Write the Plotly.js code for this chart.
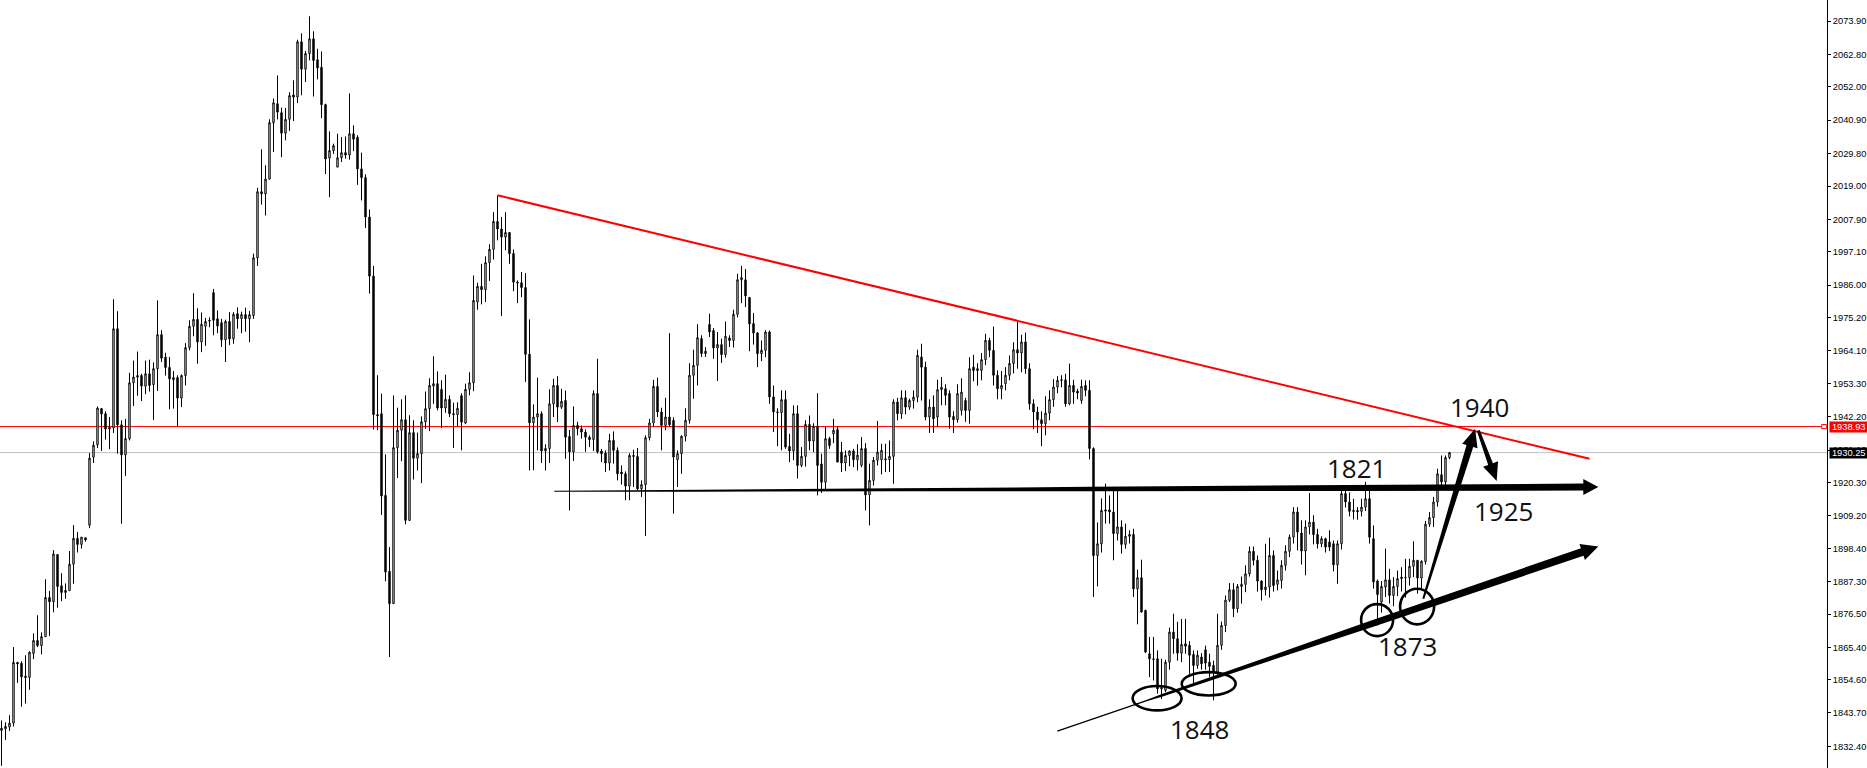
<!DOCTYPE html>
<html><head><meta charset="utf-8">
<script src="https://cdn.plot.ly/plotly-3.0.1.min.js"></script>
<style>html,body{margin:0;padding:0;background:#fff;overflow:hidden}#chart{width:1867px;height:768px}</style>
</head><body><div id="chart"></div>
<script>
// ---------------- price data (one candle per bar, oldest first) ----------------
const opens = [
1838.5,1838.3,1838.9,1840.2,1860.4,1860.1,1855.8,1855.4,1863.4,1867.7,
1866.0,1869.0,1882.0,1880.6,1896.3,1885.9,1883.7,1884.3,1893.1,1901.7,
1899.7,1901.9,1906.1,1928.7,1932.9,1944.9,1943.2,1938.1,1938.5,1971.5,
1939.5,1929.5,1934.9,1953.5,1955.9,1955.9,1952.4,1956.5,1952.9,1958.2,
1969.5,1962.0,1958.6,1954.5,1955.2,1948.4,1955.9,1965.2,1972.3,1974.6,
1967.1,1972.3,1974.0,1983.5,1974.8,1973.5,1967.8,1973.9,1968.1,1976.5,
1974.8,1976.2,1974.8,1975.9,1995.1,2017.1,2016.4,2021.3,2040.1,2046.4,
2043.4,2036.6,2041.2,2049.3,2048.6,2067.0,2057.9,2063.1,2068.0,2061.0,
2058.5,2046.1,2028.3,2030.8,2025.3,2028.4,2030.1,2029.3,2036.4,2035.2,
2024.7,2021.8,2008.7,1989.0,1942.9,1943.2,1916.0,1890.7,1880.0,1931.9,
1937.7,1941.2,1907.7,1936.9,1928.4,1929.9,1940.5,1944.9,1952.4,1953.2,
1951.3,1945.1,1948.0,1943.2,1942.9,1949.2,1940.1,1951.3,1953.5,1980.4,
1985.6,1984.5,1993.5,1997.9,2007.2,2004.7,2002.0,2003.5,1996.5,1987.0,
1986.8,1985.2,1963.0,1940.2,1942.1,1943.2,1930.8,1931.6,1946.5,1952.6,
1945.4,1947.6,1935.6,1930.5,1939.3,1938.2,1937.1,1935.4,1934.6,1949.9,
1930.8,1930.1,1926.8,1934.3,1931.0,1923.8,1923.2,1919.1,1929.3,1929.0,
1918.2,1919.6,1935.2,1940.1,1952.3,1943.8,1939.3,1942.1,1941.0,1927.9,
1929.9,1935.7,1941.0,1956.0,1959.3,1968.2,1963.2,1972.9,1970.9,1965.1,
1966.2,1962.9,1968.4,1967.6,1976.3,1987.8,1987.8,1981.9,1973.2,1970.1,
1963.2,1964.3,1970.4,1948.8,1943.8,1943.6,1947.9,1932.3,1930.8,1943.2,
1926.0,1929.0,1939.6,1934.1,1939.0,1926.5,1920.4,1934.9,1936.5,1937.9,
1930.4,1926.8,1929.3,1930.8,1927.9,1926.0,1931.6,1916.2,1921.0,1927.7,
1927.9,1928.2,1927.9,1929.0,1947.1,1943.2,1948.5,1945.4,1947.6,1948.7,
1962.1,1958.7,1942.1,1945.4,1942.1,1951.2,1951.5,1949.9,1942.3,1941.2,
1944.3,1947.6,1944.3,1958.7,1958.2,1957.6,1961.2,1967.6,1964.3,1956.0,
1951.5,1953.2,1956.0,1959.9,1964.5,1963.4,1967.1,1958.2,1946.5,1943.8,
1941.2,1939.9,1943.4,1947.9,1952.1,1954.5,1954.5,1946.5,1952.6,1950.7,
1947.6,1952.6,1951.0,1931.6,1896.0,1899.9,1911.2,1911.2,1910.5,1903.3,
1905.5,1899.7,1902.4,1903.0,1884.9,1888.6,1877.7,1863.3,1861.6,1861.6,
1851.6,1851.1,1860.5,1870.5,1868.3,1863.5,1866.6,1866.1,1863.1,1859.4,
1862.2,1864.6,1860.5,1859.4,1857.2,1866.1,1872.7,1881.1,1884.6,1878.3,
1885.7,1886.4,1889.9,1897.4,1894.4,1887.5,1884.6,1885.5,1896.0,1886.4,
1887.7,1892.7,1897.4,1902.1,1910.5,1903.5,1897.5,1905.5,1907.1,1903.0,
1899.9,1901.6,1900.5,1899.9,1892.9,1899.9,1916.6,1913.8,1911.0,1911.0,
1910.7,1912.1,1914.9,1901.6,1887.5,1880.5,1885.5,1887.9,1882.7,1885.7,
1888.3,1888.6,1888.6,1892.4,1894.4,1888.5,1894.0,1906.4,1908.6,1913.8,
1922.9,1920.5,1928.6];
const highs = [
1841.1,1840.5,1842.8,1865.5,1860.6,1860.8,1862.8,1864.1,1870.1,1876.1,
1870.4,1888.1,1884.2,1897.8,1896.5,1890.1,1886.7,1897.5,1906.1,1903.8,
1902.1,1901.9,1930.1,1934.0,1945.6,1945.1,1944.0,1942.1,1981.3,1977.3,
1941.0,1941.5,1956.8,1960.9,1963.9,1956.5,1960.9,1961.2,1960.3,1980.9,
1971.0,1963.5,1962.1,1957.4,1956.0,1956.3,1966.7,1974.3,1983.3,1978.3,
1976.9,1975.1,1975.3,1984.7,1977.6,1974.8,1974.5,1977.0,1977.0,1978.6,
1977.2,1978.5,1977.4,1996.5,2018.4,2031.2,2025.9,2041.2,2048.1,2055.8,
2045.1,2045.0,2050.2,2054.2,2067.7,2069.8,2064.0,2075.5,2070.5,2064.7,
2063.8,2046.4,2037.2,2033.1,2036.4,2035.3,2035.5,2049.8,2039.2,2035.9,
2030.1,2022.9,2011.2,1992.4,1956.0,1949.9,1929.7,1898.8,1949.3,1945.2,
1948.0,1949.3,1942.7,1941.0,1936.9,1942.3,1950.6,1955.0,1962.3,1957.3,
1954.3,1956.2,1949.3,1946.9,1947.0,1950.0,1953.2,1957.0,1989.2,1986.8,
1993.1,1995.6,1999.6,2010.3,2015.9,2008.7,2010.3,2003.7,1997.9,1987.6,
1990.4,1990.0,1974.6,1946.3,1955.2,1944.0,1933.0,1951.3,1954.8,1955.7,
1951.5,1950.9,1937.8,1945.6,1940.5,1939.3,1938.0,1936.0,1951.0,1961.5,
1931.5,1931.0,1936.5,1937.3,1932.0,1926.0,1924.0,1930.0,1931.2,1931.8,
1921.0,1936.0,1941.5,1954.5,1955.2,1945.2,1948.5,1970.0,1942.0,1931.0,
1936.0,1945.0,1960.0,1964.5,1973.0,1969.3,1965.4,1976.5,1971.7,1970.4,
1968.2,1973.9,1969.3,1977.8,1989.8,1992.4,1991.4,1981.9,1976.7,1970.4,
1967.6,1971.0,1970.9,1952.6,1945.0,1951.0,1951.0,1936.5,1946.0,1946.0,
1932.1,1941.0,1942.6,1940.0,1950.0,1929.9,1938.8,1935.5,1941.5,1939.0,
1933.8,1931.0,1931.0,1931.5,1933.0,1935.4,1933.4,1926.6,1928.8,1940.8,
1933.2,1933.2,1934.3,1948.0,1948.5,1951.0,1951.0,1948.2,1951.0,1964.5,
1966.5,1960.5,1948.0,1949.3,1954.5,1955.4,1953.0,1951.0,1944.0,1953.0,
1955.0,1948.5,1962.0,1962.8,1960.0,1963.4,1969.8,1968.5,1972.2,1957.6,
1957.4,1958.7,1962.6,1967.0,1973.7,1969.5,1970.2,1960.0,1948.0,1945.5,
1944.0,1949.0,1951.0,1954.7,1955.7,1956.0,1956.5,1959.9,1954.5,1951.5,
1954.5,1954.3,1954.3,1932.0,1907.0,1915.0,1919.9,1916.0,1917.7,1917.7,
1907.7,1906.6,1904.4,1904.9,1891.3,1894.6,1878.0,1868.9,1868.9,1864.4,
1861.6,1861.3,1872.0,1876.6,1873.9,1874.9,1874.9,1867.5,1864.4,1864.4,
1863.5,1866.0,1863.3,1861.0,1876.6,1874.0,1882.7,1886.8,1886.8,1886.5,
1889.0,1892.7,1899.0,1899.0,1896.0,1887.7,1899.9,1901.9,1897.7,1891.0,
1894.4,1899.4,1903.0,1912.1,1912.1,1907.7,1907.7,1916.8,1909.4,1904.9,
1902.4,1901.9,1904.4,1901.0,1901.0,1918.2,1917.7,1917.0,1914.9,1912.1,
1914.9,1920.5,1918.2,1906.0,1888.0,1887.5,1898.3,1891.6,1888.8,1891.0,
1892.1,1894.9,1894.9,1900.7,1894.4,1894.4,1907.5,1910.5,1915.5,1924.9,
1929.3,1929.3,1930.5];
const lows = [
1826.0,1834.6,1837.6,1839.1,1853.6,1845.7,1846.7,1851.3,1861.5,1865.5,
1863.1,1869.0,1869.2,1877.1,1878.6,1880.8,1881.6,1884.3,1886.6,1897.0,
1898.3,1900.6,1905.1,1926.8,1931.8,1930.8,1934.6,1931.4,1936.8,1929.9,
1906.6,1922.5,1934.3,1945.8,1949.2,1947.4,1949.7,1950.6,1941.1,1950.8,
1960.4,1955.9,1944.7,1944.9,1939.0,1945.4,1952.6,1964.3,1969.0,1959.9,
1963.7,1965.8,1972.0,1969.3,1970.0,1965.4,1960.4,1966.0,1966.5,1971.5,
1970.0,1970.5,1967.0,1974.8,1992.4,2012.8,2009.2,2021.2,2030.3,2041.2,
2028.6,2034.2,2037.3,2040.6,2046.6,2049.2,2053.6,2060.8,2048.8,2054.5,
2041.6,2023.0,2015.3,2029.7,2025.3,2027.0,2028.1,2027.8,2030.6,2019.4,
2014.2,2005.0,1983.2,1937.9,1937.7,1909.5,1887.4,1862.2,1880.0,1921.8,
1927.4,1906.4,1907.5,1921.3,1924.3,1920.1,1938.2,1937.4,1946.5,1944.3,
1938.4,1943.5,1942.1,1931.8,1939.0,1931.0,1939.7,1949.3,1950.7,1977.8,
1979.6,1980.4,1987.4,1994.5,2000.9,1975.7,1997.6,1993.1,1984.0,1980.0,
1982.0,1953.8,1924.3,1924.4,1931.0,1926.8,1924.3,1926.8,1942.1,1940.4,
1944.8,1928.2,1911.0,1927.5,1936.0,1934.9,1930.5,1932.1,1930.8,1929.9,
1927.1,1923.8,1924.3,1926.6,1921.0,1919.6,1914.4,1914.4,1918.8,1917.7,
1915.5,1902.5,1934.3,1938.8,1942.1,1931.0,1937.7,1938.8,1909.9,1918.8,
1923.2,1934.0,1939.9,1948.2,1952.6,1962.1,1962.1,1968.7,1961.5,1954.1,
1960.1,1961.9,1965.4,1965.2,1975.3,1980.0,1978.7,1964.0,1966.2,1958.7,
1960.7,1962.0,1946.5,1937.1,1932.4,1931.0,1931.5,1927.1,1927.7,1921.6,
1925.4,1925.6,1931.0,1930.4,1916.0,1916.8,1917.7,1931.5,1933.4,1927.1,
1923.8,1924.1,1925.7,1925.4,1924.3,1925.4,1911.0,1906.0,1919.3,1926.0,
1923.0,1923.8,1923.8,1919.9,1941.0,1941.5,1943.0,1944.5,1944.9,1947.0,
1947.6,1941.0,1936.8,1936.8,1938.8,1946.0,1946.0,1938.2,1936.8,1940.2,
1942.6,1940.5,1939.9,1954.0,1952.5,1954.3,1959.4,1962.0,1952.6,1948.0,
1948.0,1951.0,1954.3,1956.6,1958.2,1957.0,1956.5,1944.5,1938.0,1936.8,
1932.4,1936.0,1941.0,1945.5,1950.0,1952.0,1945.5,1946.0,1946.5,1948.0,
1946.5,1949.0,1928.0,1882.2,1885.7,1897.0,1906.6,1906.6,1894.4,1901.0,
1896.6,1898.3,1900.0,1882.2,1873.1,1877.0,1863.5,1855.5,1854.4,1850.0,
1848.3,1850.5,1858.0,1863.3,1861.0,1860.5,1863.3,1856.6,1853.1,1858.3,
1858.0,1858.0,1855.5,1847.8,1855.5,1864.6,1870.5,1880.5,1875.5,1877.0,
1880.0,1883.8,1889.0,1892.7,1884.0,1881.0,1882.7,1882.0,1884.0,1884.4,
1885.0,1891.0,1895.5,1900.0,1897.7,1893.0,1889.4,1903.0,1899.7,1898.3,
1898.8,1897.0,1897.5,1890.7,1886.6,1898.0,1912.0,1909.0,1908.0,1907.9,
1909.0,1910.8,1900.0,1885.0,1872.7,1877.0,1882.2,1880.0,1879.1,1882.5,
1884.0,1882.0,1886.0,1888.8,1883.3,1885.0,1893.0,1905.5,1905.5,1912.3,
1919.0,1919.5,1928.0];
const closes = [
1837.8,1839.1,1840.2,1860.4,1859.9,1855.6,1855.4,1863.8,1867.7,1866.0,
1869.0,1882.0,1880.6,1896.5,1885.7,1883.7,1884.4,1893.1,1901.7,1899.7,
1902.1,1901.2,1928.4,1932.7,1945.1,1943.1,1938.1,1938.7,1971.5,1939.5,
1929.5,1934.9,1953.5,1955.4,1955.4,1952.4,1956.5,1952.6,1958.2,1969.5,
1961.7,1958.6,1954.8,1955.2,1948.4,1955.9,1965.2,1972.3,1974.6,1967.1,
1973.0,1973.9,1974.3,1974.3,1972.4,1967.8,1973.9,1968.1,1976.3,1974.8,
1976.2,1974.8,1976.2,1995.1,2017.1,2016.4,2021.3,2040.1,2046.7,2043.6,
2036.6,2041.2,2049.1,2048.6,2067.0,2057.9,2063.1,2068.0,2060.8,2058.3,
2046.1,2028.0,2030.8,2032.4,2028.4,2030.1,2029.3,2036.4,2034.6,2024.7,
2021.8,2008.7,1989.0,1942.9,1942.5,1915.8,1890.5,1880.0,1931.9,1937.7,
1941.2,1907.7,1936.9,1928.4,1929.9,1940.5,1944.9,1952.6,1953.2,1945.1,
1945.1,1948.0,1943.2,1942.9,1945.0,1940.4,1951.3,1953.5,1980.9,1985.6,
1984.5,1993.5,1997.9,2007.2,2004.7,2002.0,2003.5,1996.5,1987.0,1986.7,
1985.2,1963.0,1940.2,1942.1,1943.2,1930.8,1931.6,1946.5,1952.6,1945.4,
1947.3,1935.4,1930.5,1939.3,1938.2,1937.1,1935.4,1934.6,1949.9,1930.5,
1929.9,1926.8,1934.3,1931.0,1923.2,1923.2,1919.1,1929.3,1929.0,1918.2,
1919.6,1935.2,1940.1,1952.3,1943.8,1939.3,1942.1,1939.5,1928.8,1929.9,
1935.7,1941.0,1956.0,1959.3,1968.5,1963.2,1964.0,1970.4,1965.1,1966.2,
1962.9,1969.0,1967.6,1976.3,1987.8,1988.5,1982.4,1973.1,1970.1,1963.2,
1964.3,1970.4,1948.8,1943.8,1943.6,1947.9,1932.1,1930.8,1943.2,1926.0,
1929.0,1939.6,1934.1,1939.0,1926.0,1920.4,1934.9,1932.6,1937.7,1927.1,
1926.8,1929.3,1930.8,1927.9,1929.4,1931.6,1916.2,1921.0,1927.7,1930.4,
1931.0,1927.9,1929.0,1947.1,1943.2,1948.5,1945.4,1947.6,1948.7,1962.6,
1958.7,1942.1,1945.4,1941.5,1951.2,1952.0,1949.3,1942.1,1941.2,1949.9,
1950.4,1944.3,1958.2,1957.6,1957.6,1961.2,1967.6,1964.3,1956.0,1951.5,
1952.6,1956.0,1959.9,1964.5,1963.4,1967.1,1958.2,1946.5,1943.8,1941.2,
1939.9,1943.4,1947.9,1952.1,1954.3,1954.3,1946.5,1952.6,1950.4,1950.1,
1952.3,1951.0,1931.6,1896.0,1899.9,1911.0,1910.8,1910.5,1903.3,1905.5,
1899.7,1902.4,1903.0,1884.9,1888.6,1877.2,1863.9,1861.6,1861.4,1851.6,
1852.0,1860.5,1870.5,1868.3,1863.5,1866.4,1865.8,1862.8,1859.4,1862.8,
1860.0,1860.2,1859.1,1857.2,1866.1,1872.7,1881.1,1884.6,1878.3,1885.7,
1886.4,1889.9,1897.4,1894.4,1887.5,1884.6,1885.5,1896.0,1886.0,1887.9,
1892.7,1897.4,1902.1,1910.5,1903.8,1897.5,1905.5,1907.1,1903.0,1899.9,
1901.6,1898.8,1898.8,1892.9,1899.9,1916.6,1913.8,1910.7,1910.7,1910.6,
1912.1,1914.9,1902.1,1887.2,1883.0,1885.7,1887.9,1882.7,1885.7,1888.3,
1888.8,1888.7,1892.4,1894.4,1888.5,1894.1,1906.4,1908.6,1913.8,1923.2,
1920.5,1928.6,1930.25];

// ---------------- price scale labels (terminal style) ----------------
const yTickText = ['2073.90','2062.80','2052.00','2040.90','2029.80','2019.00','2007.90','1997.10',
  '1986.00','1975.20','1964.10','1953.30','1942.20','1931.10','1920.30','1909.20','1898.40',
  '1887.30','1876.50','1865.40','1854.60','1843.70','1832.40'];
const yTickVals = yTickText.map(Number);

// ---------------- analyst markup (bar index, price) ----------------
const redLevel = 1938.93;
const lastPrice = 1930.25;
const trendStart = [124, 2015.9];
const trendEnd = [397, 1928.2];
const arrows = [
  {from:[138.2,1917.4], to:[399.2,1918.8], w:[[0,1],[0.04,1.2],[0.14,2],[0.33,3],[0.52,4.5],[0.77,6],[1,7]], head:15, half:8},
  {from:[263.95,1837.56], to:[399.2,1899.0], w:[[0,1.3],[0.17,1.5],[0.2,2.5],[0.27,3],[0.36,4],[0.46,5],[0.6,6.5],[1,8]], head:17, half:8.5},
  {from:[355.45,1881.6], to:[368.4,1938.2], w:[[0,2],[0.5,4.5],[1,7]], head:18, half:8},
  {from:[369.2,1937.65], to:[373.8,1920.8], w:[[0,3],[1,5]], head:18, half:8}
];
const ellipses = [ // centre index, centre price, rx px, ry px
  [288.9,1848.5,24.5,12.2],[301.8,1853.3,27,11.7],[343.9,1874.5,16,16],[353.9,1879.0,17,17.8]
];
const labels = [
  ['1940',369.4,1945.5],['1821',338.7,1925.1],['1925',375.55,1910.9],['1873',351.4,1865.8],['1848',299.55,1838.1]
];

// ---------------- geometry helpers ----------------
const W = 1867, H = 768, marginR = 40;
const plotW = W - marginR, plotH = H;
const xr = [-0.375, -0.375 + plotW / 4];
const yr = [1825.263, 2080.923];
const kx = plotW / (xr[1] - xr[0]);
const ky = plotH / (yr[1] - yr[0]);
const toPx = (p) => [(p[0] - xr[0]) * kx, (yr[1] - p[1]) * ky];
const toData = (q) => [q[0] / kx + xr[0], yr[1] - q[1] / ky];

function arrowPath(a) {
  const A = toPx(a.from), T = toPx(a.to);
  const dx = T[0] - A[0], dy = T[1] - A[1];
  const len = Math.hypot(dx, dy);
  const ux = dx / len, uy = dy / len, nx = -uy, ny = ux;
  const B = [T[0] - ux * a.head, T[1] - uy * a.head];
  const left = [], right = [];
  a.w.forEach(([t, w]) => {
    const P = [A[0] + (B[0] - A[0]) * t, A[1] + (B[1] - A[1]) * t];
    left.push([P[0] + nx * w / 2, P[1] + ny * w / 2]);
    right.push([P[0] - nx * w / 2, P[1] - ny * w / 2]);
  });
  const pts = [...left, [B[0] + nx * a.half, B[1] + ny * a.half], T,
               [B[0] - nx * a.half, B[1] - ny * a.half], ...right.reverse()];
  return 'M' + pts.map(q => toData(q).join(',')).join('L') + 'Z';
}

const shapes = [
  {type:'line', xref:'paper', yref:'y', x0:0, x1:1, y0:lastPrice, y1:lastPrice, line:{color:'#c0c0c0', width:1}, layer:'below'},
  {type:'line', xref:'paper', yref:'y', x0:0, x1:1821.7/plotW, y0:redLevel, y1:redLevel, line:{color:'#ff0000', width:1}, layer:'below'},
  {type:'rect', xref:'paper', yref:'y', x0:1821.7/plotW, x1:1826.7/plotW, y0:redLevel-2/ky, y1:redLevel+2/ky, line:{color:'#ff0000', width:1}, fillcolor:'#ffffff'},
  {type:'line', xref:'x', yref:'y', x0:trendStart[0], y0:trendStart[1], x1:trendEnd[0], y1:trendEnd[1], line:{color:'#ff0000', width:2}}
];
arrows.forEach(a => shapes.push({type:'path', xref:'x', yref:'y', path:arrowPath(a), fillcolor:'#000', line:{width:0}}));
ellipses.forEach(e => shapes.push({type:'circle', xref:'x', yref:'y',
  x0:e[0]-e[2]/kx, x1:e[0]+e[2]/kx, y0:e[1]-e[3]/ky, y1:e[1]+e[3]/ky, line:{color:'#000', width:2.6}}));

const annotations = labels.map(l => ({xref:'x', yref:'y', x:l[1], y:l[2], text:l[0], showarrow:false,
  xanchor:'center', yanchor:'middle', font:{family:'Open Sans, Noto Sans, sans-serif', size:26, color:'#111'}}));
[[redLevel,'#ff0000'],[lastPrice,'#000000']].forEach(([v,bg]) => annotations.push({
  xref:'paper', yref:'y', x:1, y:v, xanchor:'left', yanchor:'middle', xshift:2.3, showarrow:false,
  text:v.toFixed(2), bgcolor:bg, borderpad:0, width:37.4, height:9.6,
  font:{family:'Liberation Sans, Arial, sans-serif', size:9.3, color:'#ffffff'}}));

const trace = {
  type:'candlestick', x:opens.map((_, i) => i), open:opens, high:highs, low:lows, close:closes,
  increasing:{line:{color:'#000', width:1}, fillcolor:'#ffffff'},
  decreasing:{line:{color:'#000', width:1}, fillcolor:'#000000'},
  whiskerwidth:0, hoverinfo:'none'
};

const layout = {
  width:W, height:H, margin:{l:0, r:marginR, t:0, b:0, pad:0},
  paper_bgcolor:'#fff', plot_bgcolor:'#fff', showlegend:false, boxgap:0.5,
  xaxis:{range:xr, showgrid:false, zeroline:false, showticklabels:false, showline:false, ticks:'',
         rangeslider:{visible:false}, fixedrange:true},
  yaxis:{side:'right', range:yr, tickmode:'array', tickvals:yTickVals, ticktext:yTickText,
         showgrid:false, zeroline:false, showline:true, linecolor:'#000', linewidth:1,
         ticks:'outside', ticklen:3, tickwidth:1, tickcolor:'#000', automargin:false,
         tickfont:{family:'Liberation Sans, Arial, sans-serif', size:9.3, color:'#000'}, fixedrange:true},
  shapes:shapes, annotations:annotations
};

Plotly.newPlot('chart', [trace], layout, {displayModeBar:false, staticPlot:true});
</script>
</body></html>
